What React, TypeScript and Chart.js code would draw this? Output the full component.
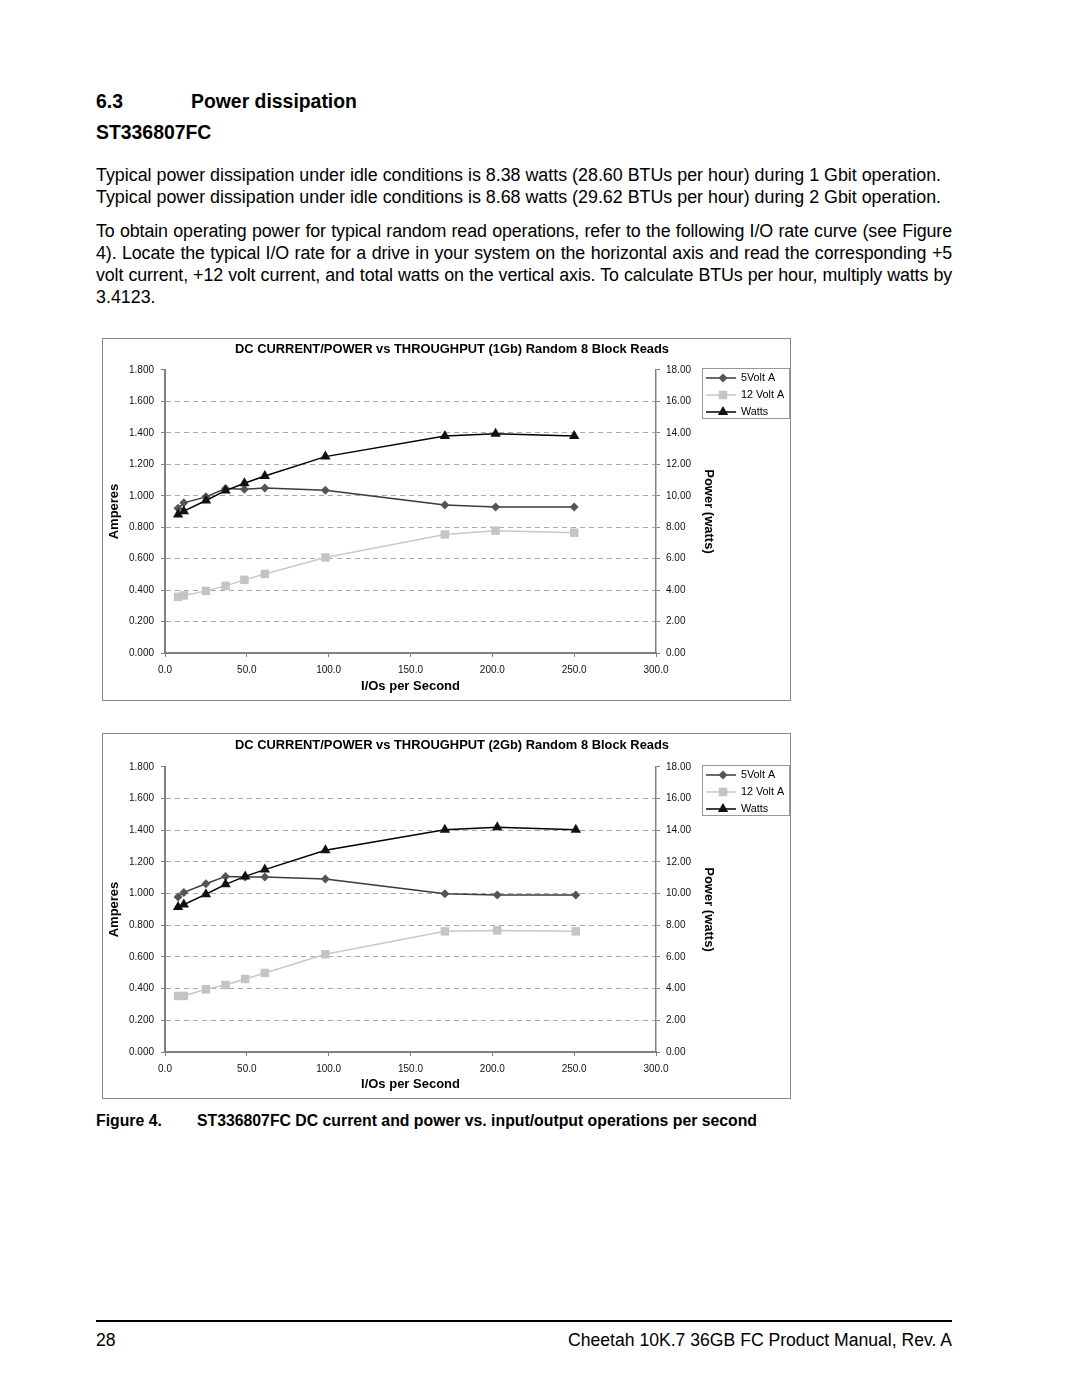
import React, { useEffect, useRef } from "react";
import { Chart, registerables } from "chart.js";

Chart.register(...registerables);

// ---------------- data ----------------
const ioRate1 = [8, 11.5, 25, 37, 48.5, 61, 98, 171, 202, 250];
const volt5Amps1 = [0.921, 0.955, 0.993, 1.046, 1.042, 1.05, 1.035, 0.942, 0.928, 0.928];
const volt12Amps1 = [0.357, 0.366, 0.395, 0.427, 0.465, 0.503, 0.608, 0.754, 0.778, 0.765];
const watts1 = [8.81, 9.02, 9.7, 10.33, 10.8, 11.26, 12.49, 13.8, 13.94, 13.8];

const ioRate2 = [8, 11.5, 25, 37, 49, 61, 98, 171, 203, 251];
const volt5Amps2 = [0.979, 1.008, 1.063, 1.109, 1.105, 1.105, 1.093, 1.0, 0.992, 0.992];
const volt12Amps2 = [0.354, 0.354, 0.396, 0.423, 0.461, 0.499, 0.617, 0.762, 0.768, 0.762];
const watts2 = [9.16, 9.31, 9.96, 10.59, 11.09, 11.52, 12.74, 14.04, 14.19, 14.04];

const seriesNames = ["5Volt A", "12 Volt A", "Watts"];
const chartTitles = [
  "DC CURRENT/POWER vs THROUGHPUT (1Gb) Random 8 Block Reads",
  "DC CURRENT/POWER vs THROUGHPUT (2Gb) Random 8 Block Reads",
];
const xTicks = [0, 50, 100, 150, 200, 250, 300];
const ampTicks = [0, 0.2, 0.4, 0.6, 0.8, 1.0, 1.2, 1.4, 1.6, 1.8];
const wattTicks = [0, 2, 4, 6, 8, 10, 12, 14, 16, 18];
const xAxisTitle = "I/Os per Second";
const leftAxisTitle = "Amperes";
const rightAxisTitle = "Power (watts)";

// ---------------- styling ----------------
const FONT = '"Liberation Sans", Arial, Helvetica, sans-serif';
const AXIS_GRAY = "#808080";

function drawMarker(ctx: CanvasRenderingContext2D, style: string, x: number, y: number, r: number, color: string) {
  ctx.fillStyle = color;
  ctx.beginPath();
  if (style === "rectRot") {
    ctx.moveTo(x, y - r);
    ctx.lineTo(x + r, y);
    ctx.lineTo(x, y + r);
    ctx.lineTo(x - r, y);
  } else if (style === "rect") {
    const s = r * Math.SQRT1_2;
    ctx.rect(x - s, y - s, 2 * s, 2 * s);
  } else {
    ctx.moveTo(x, y - r);
    ctx.lineTo(x + r * 0.866, y + r * 0.5);
    ctx.lineTo(x - r * 0.866, y + r * 0.5);
  }
  ctx.closePath();
  ctx.fill();
}

const boxLegend = {
  id: "boxLegend",
  afterDraw(chart: any, _args: any, opts: any) {
    const { ctx, chartArea } = chart;
    const left = chartArea.right + opts.offsetX;
    const top = chartArea.top + opts.offsetY;
    ctx.save();
    ctx.strokeStyle = "#999999";
    ctx.lineWidth = 1;
    ctx.strokeRect(Math.round(left) + 0.5, Math.round(top) + 0.5, opts.width, opts.height);
    chart.data.datasets.forEach((ds: any, i: number) => {
      const y = top + 10 + i * 17;
      ctx.strokeStyle = ds.borderColor;
      ctx.lineWidth = ds.borderWidth;
      ctx.beginPath();
      ctx.moveTo(left + 4, y);
      ctx.lineTo(left + 34, y);
      ctx.stroke();
      drawMarker(ctx, ds.pointStyle, left + 21, y, ds.pointRadius, ds.pointBackgroundColor);
      ctx.fillStyle = "#000";
      ctx.font = `10.8px ${FONT}`;
      ctx.textBaseline = "middle";
      ctx.textAlign = "left";
      ctx.fillText(ds.label, left + 39, y + 0.5);
    });
    ctx.restore();
  },
};

type ChartProps = {
  title: string;
  ios: number[];
  v5: number[];
  v12: number[];
  w: number[];
  width: number;
  height: number;
  titlePadTop: number;
  titlePadBottom: number;
  xAxisHeight: number;
};

function PowerChart(p: ChartProps) {
  const ref = useRef<HTMLCanvasElement>(null);
  useEffect(() => {
    const tickFont = { family: FONT, size: 10 };
    const titleFont = { family: FONT, size: 12.9, weight: "bold" as const };
    const axisTitleFont = { family: FONT, size: 13, weight: "bold" as const };
    const chart = new Chart(ref.current as HTMLCanvasElement, {
      type: "line",
      data: {
        datasets: [
          {
            label: seriesNames[0],
            data: p.ios.map((x, i) => ({ x, y: p.v5[i] })),
            yAxisID: "y",
            borderColor: "#3a3a3a",
            backgroundColor: "#555555",
            pointBackgroundColor: "#555555",
            pointBorderColor: "#555555",
            pointBorderWidth: 0,
            pointStyle: "rectRot",
            pointRadius: 4.5,
            borderWidth: 1.5,
            tension: 0,
            order: 2,
          },
          {
            label: seriesNames[1],
            data: p.ios.map((x, i) => ({ x, y: p.v12[i] })),
            yAxisID: "y",
            borderColor: "#c8c8c8",
            backgroundColor: "#c4c4c4",
            pointBackgroundColor: "#c4c4c4",
            pointBorderColor: "#c4c4c4",
            pointBorderWidth: 0,
            pointStyle: "rect",
            pointRadius: 6,
            borderWidth: 1.5,
            tension: 0,
            order: 3,
          },
          {
            label: seriesNames[2],
            data: p.ios.map((x, i) => ({ x, y: p.w[i] })),
            yAxisID: "y1",
            borderColor: "#000000",
            backgroundColor: "#111111",
            pointBackgroundColor: "#111111",
            pointBorderColor: "#111111",
            pointBorderWidth: 0,
            pointStyle: "triangle",
            pointRadius: 6,
            borderWidth: 1.5,
            tension: 0,
            order: 1,
          },
        ],
      },
      options: {
        animation: false,
        responsive: false,
        events: [],
        layout: { padding: { left: 11, right: 0, top: 0, bottom: 0 } },
        plugins: {
          legend: { display: false },
          tooltip: { enabled: false },
          title: {
            display: true,
            text: p.title,
            color: "#000",
            font: titleFont,
            padding: { top: p.titlePadTop, bottom: p.titlePadBottom },
          },
          // @ts-ignore
          boxLegend: { offsetX: 46, offsetY: -2, width: 87, height: 50 },
        },
        scales: {
          x: {
            type: "linear",
            position: "bottom",
            min: xTicks[0],
            max: xTicks[xTicks.length - 1],
            afterBuildTicks: (s: any) => {
              s.ticks = xTicks.map((v) => ({ value: v }));
            },
            afterFit: (s: any) => {
              s.height = p.xAxisHeight;
            },
            grid: { drawOnChartArea: false, tickLength: 4, color: AXIS_GRAY, tickColor: AXIS_GRAY },
            border: { color: AXIS_GRAY, width: 2 },
            ticks: {
              callback: (v: any) => Number(v).toFixed(1),
              font: tickFont,
              color: "#111",
              padding: 7,
              maxRotation: 0,
              autoSkip: false,
            },
            title: {
              display: true,
              text: xAxisTitle,
              color: "#000",
              font: axisTitleFont,
              padding: { top: 0, bottom: 6 },
            },
          },
          y: {
            type: "linear",
            position: "left",
            min: ampTicks[0],
            max: ampTicks[ampTicks.length - 1],
            afterBuildTicks: (s: any) => {
              s.ticks = ampTicks.map((v) => ({ value: v }));
            },
            afterFit: (s: any) => {
              s.width = 51;
            },
            grid: {
              color: (c: any) => {
                const v = c.tick ? c.tick.value : -1;
                return v === ampTicks[0] || v === ampTicks[ampTicks.length - 1] ? "rgba(0,0,0,0)" : "#a8a8a8";
              },
              tickColor: AXIS_GRAY,
              tickLength: 4,
              tickBorderDash: [],
            },
            border: { color: AXIS_GRAY, width: 2, dash: [5, 4] },
            ticks: {
              callback: (v: any) => Number(v).toFixed(3),
              font: tickFont,
              color: "#111",
              padding: 7,
            },
            title: {
              display: true,
              text: leftAxisTitle,
              color: "#000",
              font: axisTitleFont,
              padding: { top: -7.5, bottom: 0 },
            },
          },
          y1: {
            type: "linear",
            position: "right",
            min: wattTicks[0],
            max: wattTicks[wattTicks.length - 1],
            afterBuildTicks: (s: any) => {
              s.ticks = wattTicks.map((v) => ({ value: v }));
            },
            afterFit: (s: any) => {
              s.width = 134;
            },
            grid: { drawOnChartArea: false, tickLength: 4, color: AXIS_GRAY, tickColor: AXIS_GRAY },
            border: { color: AXIS_GRAY, width: 1.5 },
            ticks: {
              callback: (v: any) => Number(v).toFixed(2),
              font: tickFont,
              color: "#111",
              padding: 6,
            },
            title: {
              display: true,
              text: rightAxisTitle,
              color: "#000",
              font: axisTitleFont,
              padding: { top: 74, bottom: 0 },
            },
          },
        },
      },
      plugins: [boxLegend],
    } as any);
    return () => chart.destroy();
  }, []);
  return <canvas ref={ref} width={p.width} height={p.height} style={{ display: "block", width: p.width, height: p.height }} />;
}

const abs = (left: number, top: number, extra: React.CSSProperties = {}): React.CSSProperties => ({
  position: "absolute",
  left,
  top,
  margin: 0,
  whiteSpace: "nowrap",
  ...extra,
});

const BODY: React.CSSProperties = { fontSize: 17.85, lineHeight: "22px" };
const JUST: React.CSSProperties = {
  ...BODY,
  width: 856,
  letterSpacing: "-0.12px",
  textAlign: "justify",
  textAlignLast: "justify" as any,
};
const HEAD: React.CSSProperties = { fontSize: 19.4, lineHeight: "24px", fontWeight: "bold" };
const CAPTION: React.CSSProperties = { fontSize: 15.8, lineHeight: "20px", fontWeight: "bold" };

export default function App() {
  return (
    <div
      style={{
        position: "absolute",
        left: 0,
        top: 0,
        width: 1080,
        height: 1397,
        overflow: "hidden",
        background: "#fff",
        color: "#000",
        fontFamily: FONT,
      }}
    >
      <div style={abs(96, 89, HEAD)}>6.3</div>
      <div style={abs(191, 89, HEAD)}>Power dissipation</div>
      <div style={abs(96, 120, HEAD)}>ST336807FC</div>

      <div style={abs(96, 164, BODY)}>
        Typical power dissipation under idle conditions is 8.38 watts (28.60 BTUs per hour) during 1 Gbit operation.
      </div>
      <div style={abs(96, 186, BODY)}>
        Typical power dissipation under idle conditions is 8.68 watts (29.62 BTUs per hour) during 2 Gbit operation.
      </div>

      <div style={abs(96, 220, JUST)}>
        To obtain operating power for typical random read operations, refer to the following I/O rate curve (see Figure
      </div>
      <div style={abs(96, 242, JUST)}>
        4). Locate the typical I/O rate for a drive in your system on the horizontal axis and read the corresponding +5
      </div>
      <div style={abs(96, 264, JUST)}>
        volt current, +12 volt current, and total watts on the vertical axis. To calculate BTUs per hour, multiply watts by
      </div>
      <div style={abs(96, 286, BODY)}>3.4123.</div>

      <div style={abs(102, 338, { width: 689, height: 363, border: "1px solid #8a8a8a", boxSizing: "border-box" })}>
        <PowerChart
          title={chartTitles[0]}
          ios={ioRate1}
          v5={volt5Amps1}
          v12={volt12Amps1}
          w={watts1}
          width={687}
          height={361}
          titlePadTop={2.3}
          titlePadBottom={13.2}
          xAxisHeight={47}
        />
      </div>

      <div style={abs(102, 733, { width: 689, height: 366, border: "1px solid #8a8a8a", boxSizing: "border-box" })}>
        <PowerChart
          title={chartTitles[1]}
          ios={ioRate2}
          v5={volt5Amps2}
          v12={volt12Amps2}
          w={watts2}
          width={687}
          height={364}
          titlePadTop={3.3}
          titlePadBottom={14.2}
          xAxisHeight={46}
        />
      </div>

      <div style={abs(96, 1111, CAPTION)}>Figure 4.</div>
      <div style={abs(197, 1111, CAPTION)}>ST336807FC DC current and power vs. input/output operations per second</div>

      <div style={abs(96, 1320, { width: 856, height: 2, background: "#000" })} />
      <div style={abs(96, 1329, { fontSize: 17.6, lineHeight: "22px" })}>28</div>
      <div style={abs(96, 1329, { fontSize: 17.6, lineHeight: "22px", width: 856, textAlign: "right" })}>
        Cheetah 10K.7 36GB FC Product Manual, Rev. A
      </div>
    </div>
  );
}
